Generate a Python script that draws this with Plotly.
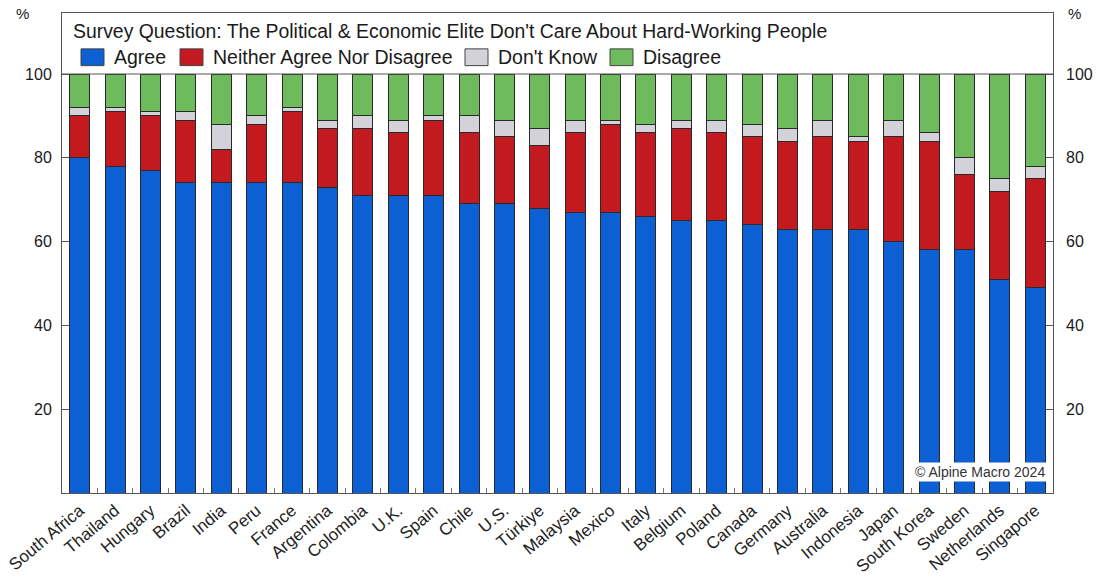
import plotly.graph_objects as go

# Survey shares (%) by country
countries = ["South Africa", "Thailand", "Hungary", "Brazil", "India", "Peru", "France",
             "Argentina", "Colombia", "U.K.", "Spain", "Chile", "U.S.", "Türkiye",
             "Malaysia", "Mexico", "Italy", "Belgium", "Poland", "Canada", "Germany",
             "Australia", "Indonesia", "Japan", "South Korea", "Sweden", "Netherlands",
             "Singapore"]
agree = [80, 78, 77, 74, 74, 74, 74, 73, 71, 71, 71, 69, 69, 68, 67, 67, 66, 65, 65,
         64, 63, 63, 63, 60, 58, 58, 51, 49]
neither = [10, 13, 13, 15, 8, 14, 17, 14, 16, 15, 18, 17, 16, 15, 19, 21, 20, 22, 21,
           21, 21, 22, 21, 25, 26, 18, 21, 26]
dont_know = [2, 1, 1, 2, 6, 2, 1, 2, 3, 3, 1, 4, 4, 4, 3, 1, 2, 2, 3, 3, 3, 4, 1, 4,
             2, 4, 3, 3]
disagree = [100 - a - n - d for a, n, d in zip(agree, neither, dont_know)]

series_names = ["Agree", "Neither Agree Nor Disagree", "Don't Know", "Disagree"]
series_values = [agree, neither, dont_know, disagree]
colors = ["#0d5fd4", "#c21a1f", "#d3d2d8", "#6dbb5c"]

y_ticks = [20, 40, 60, 80, 100]
title_text = "Survey Question: The Political & Economic Elite Don't Care About Hard-Working People"
source_text = "© Alpine Macro 2024"

FONT = "Liberation Sans, Arial, sans-serif"
YMAX = 114.56
PLOT_W = 991.0  # plot width in px, used to place the legend row

fig = go.Figure()
for name, vals, col in zip(series_names, series_values, colors):
    fig.add_trace(go.Bar(
        x=countries, y=vals, name=name,
        marker=dict(color=col, line=dict(color="#2a2a2a", width=1)),
        showlegend=False,
    ))

# invisible trace so the right-hand axis is drawn
fig.add_trace(go.Scatter(x=[countries[0]], y=[0], yaxis="y2", mode="markers",
                         marker=dict(opacity=0), showlegend=False, hoverinfo="skip"))

# header separator at 100%
shapes = [dict(type="line", xref="paper", x0=0, x1=1, yref="y", y0=100, y1=100,
               line=dict(color="#555", width=1))]
annotations = [
    dict(text=title_text, xref="paper", yref="y", x=9 / PLOT_W, y=110.3, xanchor="left",
         yanchor="middle", showarrow=False, font=dict(family=FONT, size=19.4, color="#1a1a1a")),
    dict(text="%", xref="paper", yref="paper", x=-0.04, y=1.0, xanchor="center",
         yanchor="middle", showarrow=False, font=dict(family=FONT, size=15, color="#1a1a1a")),
    dict(text="%", xref="paper", yref="paper", x=1.022, y=1.0, xanchor="center",
         yanchor="middle", showarrow=False, font=dict(family=FONT, size=15, color="#1a1a1a")),
    dict(text=source_text, xref="paper", yref="y", x=0.994, y=5.0, xanchor="right",
         yanchor="middle", showarrow=False, bgcolor="white", borderpad=1,
         font=dict(family=FONT, size=14, color="#333")),
]

# hand-made legend row
legend_x = [19, 118, 403, 548]  # pixel offsets from plot left
for i, (name, col) in enumerate(zip(series_names, colors)):
    x0 = legend_x[i] / PLOT_W
    x1 = (legend_x[i] + 23) / PLOT_W
    shapes.append(dict(type="rect", xref="paper", yref="y", x0=x0, x1=x1,
                       y0=102.0, y1=106.0, fillcolor=col,
                       line=dict(color="#444", width=1)))
    annotations.append(dict(text=name, xref="paper", yref="y",
                            x=(legend_x[i] + 31) / PLOT_W, y=104.0,
                            xanchor="left", yanchor="middle", showarrow=False,
                            font=dict(family=FONT, size=19.5, color="#1a1a1a")))

fig.update_layout(
    width=1096, height=579,
    margin=dict(l=62, r=43, t=13, b=86),
    paper_bgcolor="white", plot_bgcolor="white",
    barmode="stack", bargap=0.435,
    shapes=shapes, annotations=annotations,
    xaxis=dict(range=[-0.5, len(countries) - 0.5], tickangle=-40, automargin=False,
               showline=True, mirror=True, linecolor="#555", linewidth=1,
               ticks="inside", tickson="boundaries", ticklen=5, tickcolor="#777",
               tickfont=dict(family=FONT, size=17, color="#222"), showgrid=False),
    yaxis=dict(range=[0, YMAX], tickvals=y_ticks, ticks="inside", ticklen=7,
               tickcolor="#555", showline=True, mirror=True, linecolor="#555",
               linewidth=1, showgrid=False, zeroline=False, ticklabelstandoff=6,
               automargin=False,
               tickfont=dict(family=FONT, size=16, color="#1a1a1a")),
    yaxis2=dict(range=[0, YMAX], tickvals=y_ticks, ticks="inside", ticklen=7,
                tickcolor="#555", overlaying="y", side="right", showgrid=False,
                zeroline=False, ticklabelstandoff=12, automargin=False,
                tickfont=dict(family=FONT, size=16, color="#1a1a1a")),
)

fig.write_html("out.html")
